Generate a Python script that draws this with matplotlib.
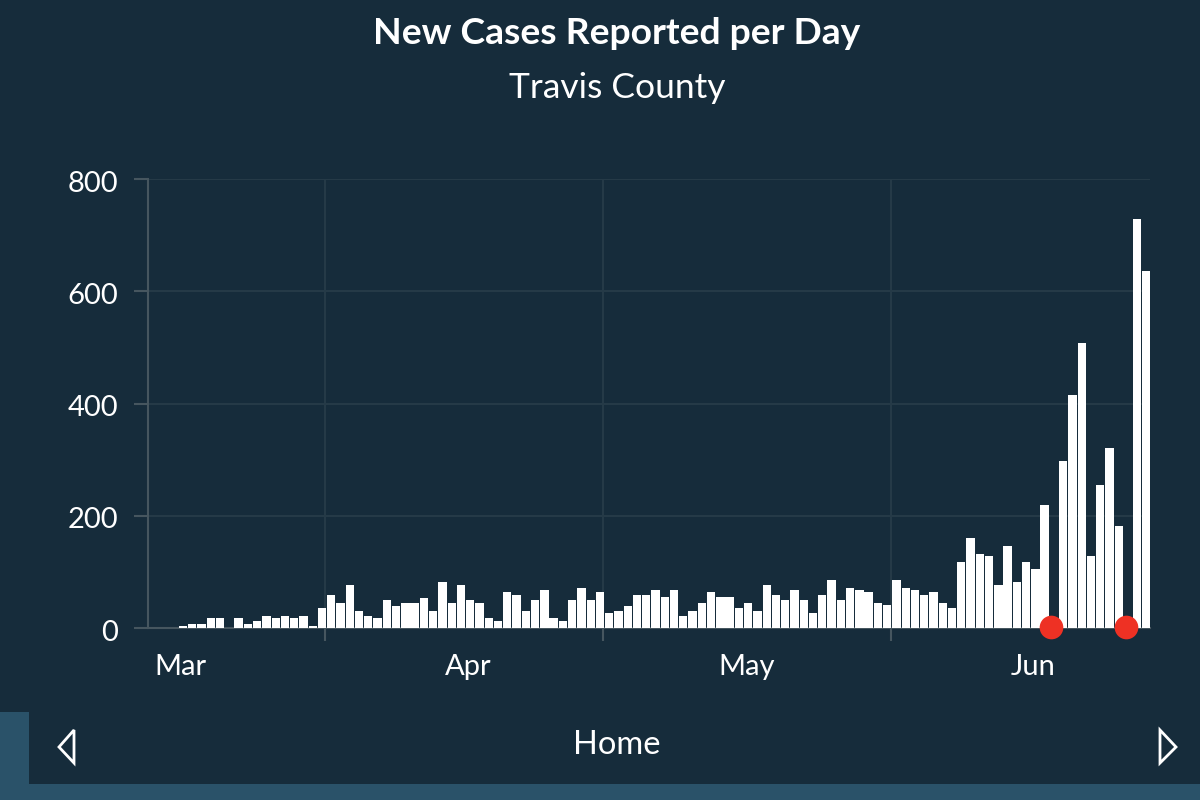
import matplotlib
matplotlib.use("Agg")
import matplotlib.pyplot as plt
import matplotlib.patches as mpatches
from matplotlib.transforms import ScaledTranslation

plt.rcParams['font.family'] = ['Lato', 'DejaVu Sans']

# new cases per day, Mar 1 to Jun 13
cases = [4, 8, 8, 18, 18, 0, 18, 8, 13, 22, 18, 22, 18, 22, 4,
         36, 59, 45, 77, 31, 22, 18, 50, 40, 45, 45, 54, 31, 82, 45, 77,
         50, 45, 18, 13, 64, 59, 31, 50, 68, 18, 13, 50, 72, 50, 64,
         27, 31, 40, 59, 59, 68, 55, 68, 22, 31, 45, 64, 55, 55, 36,
         45, 31, 77, 59, 50, 68, 50, 27, 59, 86, 50, 72, 68, 64, 45, 41,
         86, 72, 68, 59, 64, 45, 36, 118, 160, 132, 128, 77, 146, 82, 118, 105,
         219, 0, 297, 416, 508, 128, 255, 320, 182, 0, 728, 636]
days = list(range(len(cases)))
red_days = [93.7, 101.8]
red_values = [2, 2]
month_pos = [-0.3, 30.8, 60.8, 91.8]
month_labels = ['Mar', 'Apr', 'May', 'Jun']
grid_days = [15.3, 45.3, 76.4]
y_ticks = [0, 200, 400, 600, 800]

bg = '#162c3b'
strip = '#2a5269'
W, H = 1200, 800

fig = plt.figure(figsize=(12, 8), dpi=100, facecolor=bg)
ax = fig.add_axes([148 / W, 1 - 628 / H, (1150 - 148) / W, (628 - 179) / H], facecolor=bg)

ax.bar(days, cases, width=0.9, color='white', zorder=3)
ax.scatter(red_days, red_values, s=290, color='#ee3124', linewidths=0, zorder=4, clip_on=False)

ax.set_xlim(-3.78, 104.37)
ax.set_ylim(0, 800)

ax.set_yticks(y_ticks)
ax.set_xticks(grid_days)
ax.set_xticklabels([])
ax.set_xticks(month_pos, labels=month_labels, minor=True)
ax.tick_params(axis='x', which='minor', length=0, pad=19, labelsize=21, labelcolor='white')
ax.tick_params(axis='x', which='major', length=9, width=1.5, color='#46565f')
ax.tick_params(axis='y', length=10, width=1.5, color='#46565f', pad=11.5, labelsize=21, labelcolor='white')
ax.grid(True, which='major', color='#253a47', linewidth=1.5, zorder=0)
ax.set_axisbelow(True)

# y labels sit a little below their ticks
for label in ax.get_yticklabels():
    label.set_transform(label.get_transform() + ScaledTranslation(0, -1.5 / 72, fig.dpi_scale_trans))

for side in ['top', 'right']:
    ax.spines[side].set_visible(False)
for side in ['left', 'bottom']:
    ax.spines[side].set_color('#46565f')
    ax.spines[side].set_linewidth(1.5)

fig.text(617 / W, 1 - 34 / H, 'New Cases Reported per Day', color='white', fontsize=26.8,
         fontweight='bold', ha='center', va='center')
fig.text(617 / W, 1 - 88 / H, 'Travis County', color='white', fontsize=25.5, ha='center', va='center')
fig.text(617 / W, 1 - 745 / H, 'Home', color='white', fontsize=23.5, ha='center', va='center')

# app chrome at the bottom
fig.patches.append(mpatches.Rectangle((0, 0), 29 / W, 88 / H, transform=fig.transFigure, color=strip, lw=0))
fig.patches.append(mpatches.Rectangle((0, 0), 1, 16 / H, transform=fig.transFigure, color=strip, lw=0))
left_tri = [(74 / W, 1 - 730 / H), (59 / W, 1 - 747 / H), (74 / W, 1 - 763 / H)]
right_tri = [(1160 / W, 1 - 730 / H), (1176 / W, 1 - 747 / H), (1160 / W, 1 - 763 / H)]
for tri in [left_tri, right_tri]:
    fig.patches.append(mpatches.Polygon(tri, closed=True, fill=False, edgecolor='white',
                                        linewidth=2, transform=fig.transFigure))

fig.savefig('out.png', dpi=100, facecolor=bg)
